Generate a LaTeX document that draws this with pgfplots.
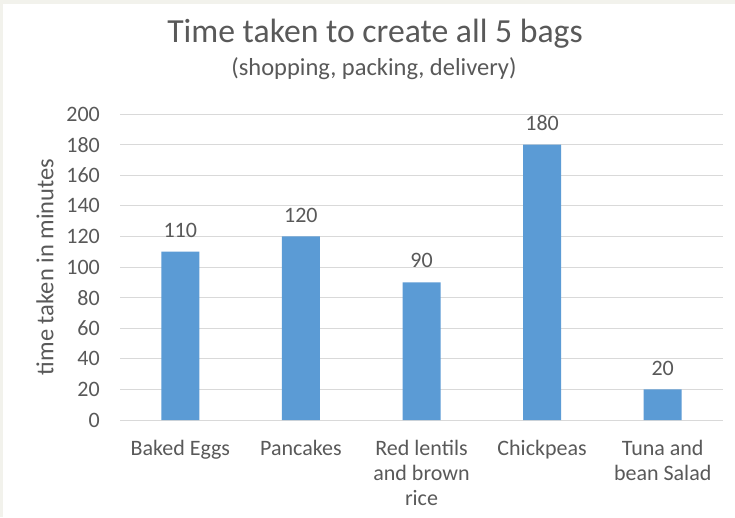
\documentclass[border=0pt]{standalone}
\usepackage{pgfplots}
\pgfplotsset{compat=1.18}
\usepackage{fontspec}
\setmainfont{Carlito}
\definecolor{barblue}{HTML}{5B9BD5}
\definecolor{gridgray}{HTML}{D9D9D9}
\definecolor{textgray}{HTML}{595959}
\definecolor{framebg}{HTML}{F2F2EC}
\begin{document}
\begin{tikzpicture}[x=1pt,y=1pt]
% page background with a thin frame on the top and left
\path[use as bounding box, fill=framebg] (0,0) rectangle (735,517);
\fill[white] (3,0) rectangle (735,513);
% titles
\node[text=textgray, font=\fontsize{33.7}{40}\selectfont, anchor=base, inner sep=0pt]
  at (375,474) {Time taken to create all 5 bags};
\node[text=textgray, font=\fontsize{24.5}{29}\selectfont, anchor=base, inner sep=0pt]
  at (374,441) {(shopping, packing, delivery)};
\begin{axis}[
  at={(120pt,97pt)}, anchor=south west,
  scale only axis, width=603pt, height=306pt,
  xmin=-0.5, xmax=4.5, ymin=0, ymax=200,
  ytick={0,20,...,200},
  xtick={0,1,2,3,4},
  xticklabels={Baked Eggs, Pancakes, {Red lentils\\and brown\\rice}, Chickpeas, {Tuna and\\bean Salad}},
  axis line style={draw=none},
  major tick length=0pt,
  ymajorgrids, grid style={gridgray, line width=0.9pt},
  /pgf/number format/assume math mode=true,
  tick label style={text=textgray, font=\fontsize{22}{25}\selectfont},
  yticklabel style={inner sep=0pt, xshift=-20pt},
  xticklabel style={align=center, inner sep=0pt, anchor=north, yshift=-20pt},
  ylabel={time taken in minutes},
  ylabel style={at={(axis description cs:0,0.5)}, anchor=center, yshift=75pt,
    text=textgray, font=\fontsize{24.5}{29}\selectfont},
  nodes near coords,
  nodes near coords style={text=textgray, font=\fontsize{22}{25}\selectfont,
    anchor=south, inner sep=0pt, yshift=14pt},
]
\addplot[ybar, bar width=38pt, fill=barblue, draw=none] coordinates {
  (0,110) (1,120) (2,90) (3,180) (4,20)
};
\end{axis}
\end{tikzpicture}
\end{document}
